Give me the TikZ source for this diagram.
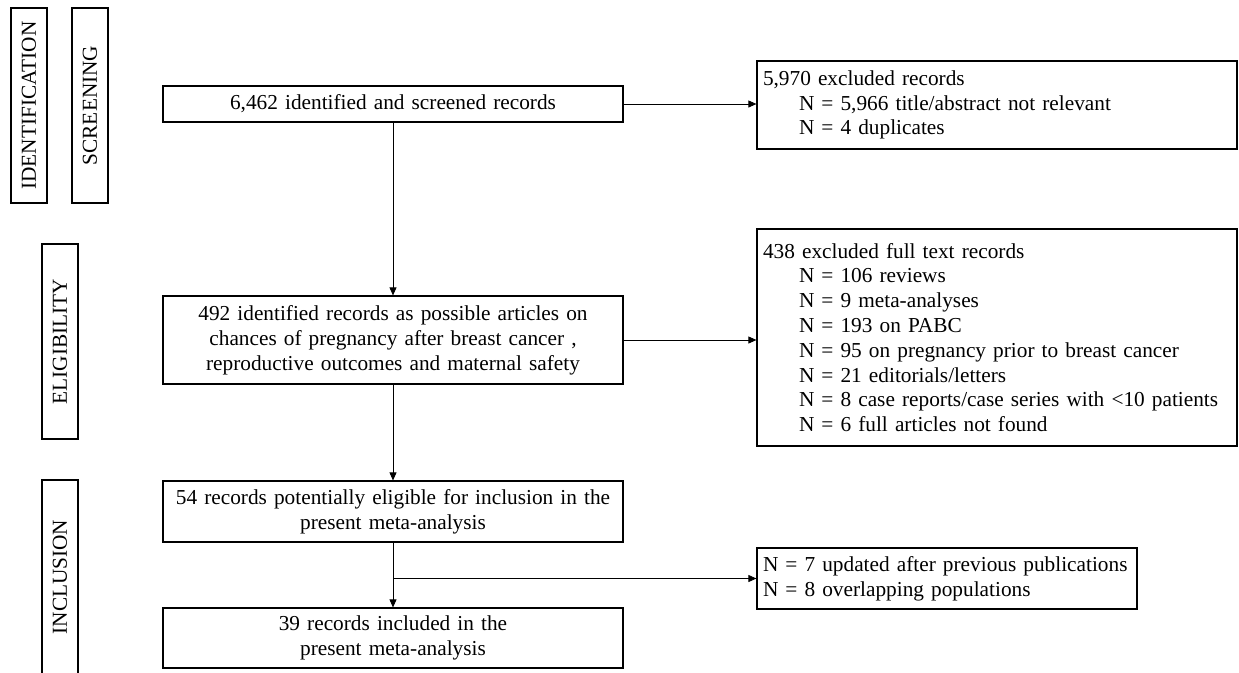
\documentclass[tikz,border=0pt]{standalone}
\usepackage{fontspec}
\setmainfont{Liberation Serif}
\usetikzlibrary{arrows.meta}
\begin{document}
\begin{tikzpicture}[x=1pt,y=-1pt,
  every node/.style={font=\fontsize{21.3}{24.8}\selectfont},
  mainbox/.style={draw,line width=1.2pt,minimum width=460pt,text width=448pt,align=center,inner xsep=6pt,inner ysep=0pt},
  sidebox/.style={draw,line width=1.2pt,minimum height=36pt,rotate=90,inner sep=0pt},
  exbox/.style={draw,line width=1.2pt,align=left,inner xsep=6pt,inner ysep=0pt},
  conn/.style={line width=0.8pt},
  arr/.style={conn,-{Triangle[length=8pt,width=7pt]}}
]
\useasboundingbox (0,0) rectangle (1239,672);
% side labels
\node[sidebox,minimum width=195pt] (id) at (29,105.5) {IDENTIFICATION};
\node[sidebox,minimum width=195pt] (scr) at (90,105.5) {SCREENING};
\node[sidebox,minimum width=195pt] (elig) at (60,341.5) {ELIGIBILITY};
\node[sidebox,minimum width=194pt] (incl) at (60,577) {INCLUSION};
% main column
\node[mainbox,minimum height=36pt] (b1) at (393,104) {6,462 identified and screened records};
\node[mainbox,minimum height=88pt] (b2) at (393,340) {492 identified records as possible articles on\\chances of pregnancy after breast cancer ,\\reproductive outcomes and maternal safety};
\node[mainbox,minimum height=61pt] (b3) at (393,511.5) {54 records potentially eligible for inclusion in the\\present meta-analysis};
\node[mainbox,minimum height=60pt] (b4) at (393,638) {39 records included in the\\present meta-analysis};
% exclusion boxes
\node[exbox,text width=468pt,minimum height=88pt] (r1) at (997,105) {5,970 excluded records\\\hspace*{36pt}N = 5,966 title/abstract not relevant\\\hspace*{36pt}N = 4 duplicates};
\node[exbox,text width=468pt,minimum height=217pt] (r2) at (997,337.5) {438 excluded full text records\\\hspace*{36pt}N = 106 reviews\\\hspace*{36pt}N = 9 meta-analyses\\\hspace*{36pt}N = 193 on PABC\\\hspace*{36pt}N = 95 on pregnancy prior to breast cancer\\\hspace*{36pt}N = 21 editorials/letters\\\hspace*{36pt}N = 8 case reports/case series with <10 patients\\\hspace*{36pt}N = 6 full articles not found};
\node[exbox,text width=368pt,minimum height=61pt] (r3) at (947,578.5) {N = 7 updated after previous publications\\N = 8 overlapping populations};
% connectors
\draw[arr] (b1) -- (b2);
\draw[arr] (b2) -- (b3);
\draw[arr] (b3) -- (b4);
\draw[arr] (b1.east) -- (b1.east -| r1.west);
\draw[arr] (b2.east) -- (b2.east -| r2.west);
\coordinate (br) at (b3.south |- r3.west);
\draw[arr] (br) -- (r3.west);
\end{tikzpicture}
\end{document}
